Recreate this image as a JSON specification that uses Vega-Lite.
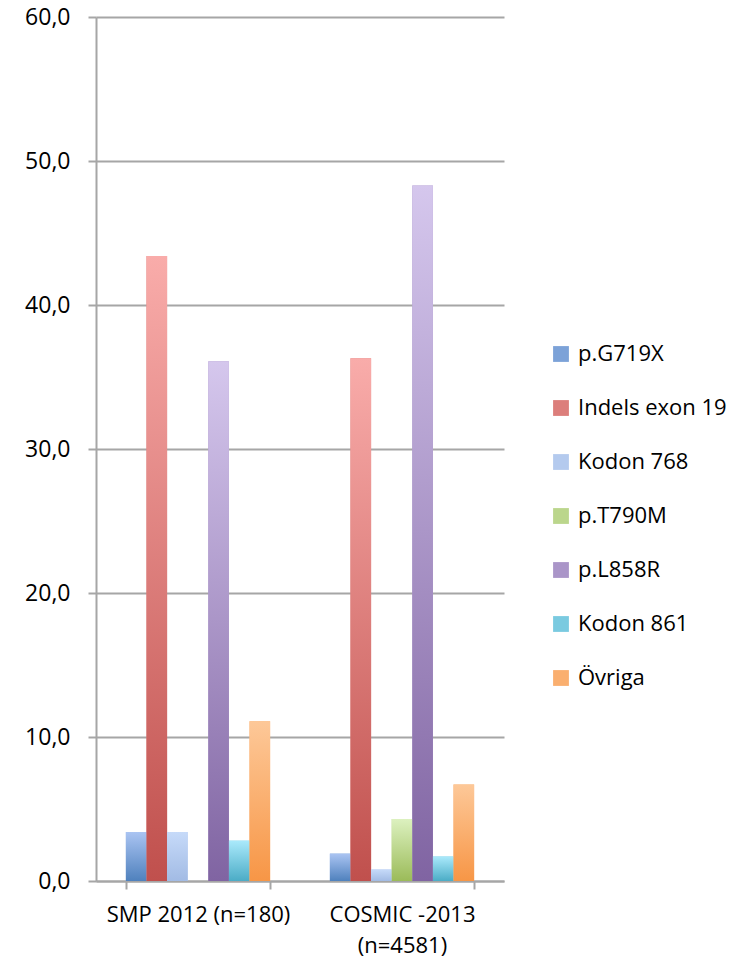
{
  "$schema": "https://vega.github.io/schema/vega-lite/v6.json",
  "width": 408,
  "height": 864,
  "autosize": {"type": "none"},
  "padding": {"left": 96, "top": 17, "right": 234, "bottom": 84},
  "background": "white",
  "config": {
    "locale": {"number": {"decimal": ",", "thousands": " ", "grouping": [3], "currency": ["", " kr"]}},
    "view": {"stroke": null},
    "font": "Open Sans"
  },
  "data": {
    "values": [
      {"grupp": "SMP 2012 (n=180)", "mutation": "p.G719X", "andel": 3.4},
      {"grupp": "SMP 2012 (n=180)", "mutation": "Indels exon 19", "andel": 43.4},
      {"grupp": "SMP 2012 (n=180)", "mutation": "Kodon 768", "andel": 3.4},
      {"grupp": "SMP 2012 (n=180)", "mutation": "p.L858R", "andel": 36.1},
      {"grupp": "SMP 2012 (n=180)", "mutation": "Kodon 861", "andel": 2.8},
      {"grupp": "SMP 2012 (n=180)", "mutation": "Övriga", "andel": 11.1},
      {"grupp": "COSMIC -2013 (n=4581)", "mutation": "p.G719X", "andel": 1.9},
      {"grupp": "COSMIC -2013 (n=4581)", "mutation": "Indels exon 19", "andel": 36.3},
      {"grupp": "COSMIC -2013 (n=4581)", "mutation": "Kodon 768", "andel": 0.8},
      {"grupp": "COSMIC -2013 (n=4581)", "mutation": "p.T790M", "andel": 4.3},
      {"grupp": "COSMIC -2013 (n=4581)", "mutation": "p.L858R", "andel": 48.3},
      {"grupp": "COSMIC -2013 (n=4581)", "mutation": "Kodon 861", "andel": 1.7},
      {"grupp": "COSMIC -2013 (n=4581)", "mutation": "Övriga", "andel": 6.7}
    ]
  },
  "encoding": {
    "x": {
      "field": "grupp",
      "type": "nominal",
      "sort": ["SMP 2012 (n=180)", "COSMIC -2013 (n=4581)"],
      "scale": {"paddingInner": 0.293, "paddingOuter": 0.1465},
      "axis": {
        "title": null,
        "labelAngle": 0,
        "labelFontSize": 22,
        "labelColor": "#000000",
        "labelPadding": 15,
        "labelLineHeight": 31,
        "labelBaseline": "top",
        "labelLimit": 400,
        "labelOverlap": false,
        "labelExpr": "datum.label == 'COSMIC -2013 (n=4581)' ? ['COSMIC -2013', '(n=4581)'] : datum.label",
        "tickBand": "extent",
        "tickSize": 8,
        "tickColor": "#a6a6a6",
        "tickWidth": 2,
        "domainColor": "#a6a6a6",
        "domainWidth": 2
      }
    },
    "xOffset": {
      "field": "mutation",
      "type": "nominal",
      "scale": {"domain": ["p.G719X", "Indels exon 19", "Kodon 768", "p.T790M", "p.L858R", "Kodon 861", "Övriga"], "paddingInner": 0, "paddingOuter": 0}
    },
    "y": {
      "field": "andel",
      "type": "quantitative",
      "scale": {"domain": [0, 60], "nice": false},
      "axis": {
        "title": null,
        "values": [0, 10, 20, 30, 40, 50, 60],
        "format": ".1f",
        "labelFontSize": 23,
        "labelColor": "#000000",
        "labelPadding": 18,
        "tickSize": 8,
        "tickColor": "#a6a6a6",
        "tickWidth": 2,
        "domainColor": "#a6a6a6",
        "domainWidth": 2,
        "grid": true,
        "gridColor": "#a6a6a6",
        "gridWidth": 2
      }
    }
  },
  "layer": [
    {
      "mark": {"type": "bar", "strokeWidth": 0},
      "encoding": {
        "color": {
          "field": "mutation",
          "type": "nominal",
          "scale": {
            "domain": ["p.G719X", "Indels exon 19", "Kodon 768", "p.T790M", "p.L858R", "Kodon 861", "Övriga"],
            "range": ["#7ca2d8", "#dc7e7b", "#b4caee", "#bbd68c", "#aa95c8", "#7acae0", "#faaf6f"]
          },
          "legend": {
            "title": null,
            "orient": "none",
            "legendX": 454,
            "legendY": 326,
            "symbolType": "square",
            "symbolSize": 250,
            "symbolStrokeWidth": 0,
            "symbolOpacity": 1,
            "labelFontSize": 22,
            "labelColor": "#000000",
            "labelOffset": 6,
            "labelLimit": 300,
            "rowPadding": 32
          }
        }
      }
    },
    {
      "transform": [{"filter": "datum.mutation == 'p.G719X'"}],
      "mark": {"type": "bar", "strokeWidth": 0, "color": {"gradient": "linear", "x1": 0, "y1": 0, "x2": 0, "y2": 1, "stops": [{"offset": 0, "color": "#aac4f2"}, {"offset": 1, "color": "#4f81bd"}]}}
    },
    {
      "transform": [{"filter": "datum.mutation == 'Indels exon 19'"}],
      "mark": {"type": "bar", "strokeWidth": 0, "color": {"gradient": "linear", "x1": 0, "y1": 0, "x2": 0, "y2": 1, "stops": [{"offset": 0, "color": "#f9acaa"}, {"offset": 1, "color": "#c0504d"}]}}
    },
    {
      "transform": [{"filter": "datum.mutation == 'Kodon 768'"}],
      "mark": {"type": "bar", "strokeWidth": 0, "color": {"gradient": "linear", "x1": 0, "y1": 0, "x2": 0, "y2": 1, "stops": [{"offset": 0, "color": "#c6daf9"}, {"offset": 1, "color": "#a2bbe4"}]}}
    },
    {
      "transform": [{"filter": "datum.mutation == 'p.T790M'"}],
      "mark": {"type": "bar", "strokeWidth": 0, "color": {"gradient": "linear", "x1": 0, "y1": 0, "x2": 0, "y2": 1, "stops": [{"offset": 0, "color": "#dcf1bf"}, {"offset": 1, "color": "#9bbb59"}]}}
    },
    {
      "transform": [{"filter": "datum.mutation == 'p.L858R'"}],
      "mark": {"type": "bar", "strokeWidth": 0, "color": {"gradient": "linear", "x1": 0, "y1": 0, "x2": 0, "y2": 1, "stops": [{"offset": 0, "color": "#d5c7ed"}, {"offset": 1, "color": "#8064a2"}]}}
    },
    {
      "transform": [{"filter": "datum.mutation == 'Kodon 861'"}],
      "mark": {"type": "bar", "strokeWidth": 0, "color": {"gradient": "linear", "x1": 0, "y1": 0, "x2": 0, "y2": 1, "stops": [{"offset": 0, "color": "#aae9fb"}, {"offset": 1, "color": "#4bacc6"}]}}
    },
    {
      "transform": [{"filter": "datum.mutation == 'Övriga'"}],
      "mark": {"type": "bar", "strokeWidth": 0, "color": {"gradient": "linear", "x1": 0, "y1": 0, "x2": 0, "y2": 1, "stops": [{"offset": 0, "color": "#fdc898"}, {"offset": 1, "color": "#f79646"}]}}
    }
  ]
}
